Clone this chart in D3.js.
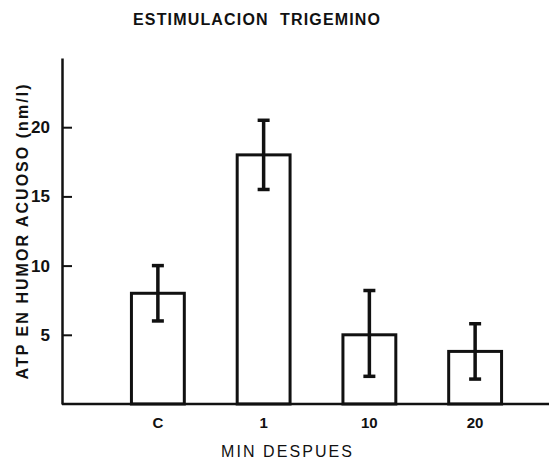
<!DOCTYPE html>
<html>
<head>
<meta charset="utf-8">
<script src="https://cdn.jsdelivr.net/npm/d3@7"></script>
<style>
  body { margin: 0; background: #fff; }
  text { font-family: "Liberation Sans", Arial, sans-serif; font-weight: bold; fill: #111; }
</style>
</head>
<body>
<div id="graph"></div>
<script>
const svgw = 549
const svgh = 464

// data
const categories = ['C', '1', '10', '20']
const means = [8.0, 18.0, 5.0, 3.8]
const errTop = [10.0, 20.5, 8.2, 5.8]
const errBottom = [6.0, 15.5, 2.0, 1.8]
const yTicks = [5, 10, 15, 20]

const data = categories.map((c, i) => ({ cat: c, v: means[i], hi: errTop[i], lo: errBottom[i] }))

const svg = d3.select('#graph')
    .append('svg')
    .attr('width', svgw)
    .attr('height', svgh)

const axisX = 62
const baseY = 404

const yScale = d3.scaleLinear()
    .domain([0, 25])
    .range([baseY, 58])

const xScale = d3.scaleBand()
    .domain(categories)
    .range([105, 528])
    .paddingInner(0.5)
    .paddingOuter(0.25)

// title
svg.append('text')
    .attr('x', 133)
    .attr('y', 25)
    .attr('font-size', 16)
    .attr('textLength', 247)
    .attr('lengthAdjust', 'spacing')
    .style('white-space', 'pre')
    .text('ESTIMULACION  TRIGEMINO')

// bars
svg.selectAll('rect.bar')
    .data(data)
    .enter()
    .append('rect')
    .attr('class', 'bar')
    .attr('x', d => xScale(d.cat))
    .attr('y', d => yScale(d.v))
    .attr('width', xScale.bandwidth())
    .attr('height', d => baseY - yScale(d.v))
    .attr('fill', '#fff')
    .attr('stroke', '#111')
    .attr('stroke-width', 3)

// error bars
const err = svg.selectAll('g.err')
    .data(data)
    .enter()
    .append('g')
    .attr('class', 'err')
    .attr('stroke', '#111')
    .attr('stroke-width', 3.5)

err.append('line')
    .attr('x1', d => xScale(d.cat) + xScale.bandwidth() / 2)
    .attr('x2', d => xScale(d.cat) + xScale.bandwidth() / 2)
    .attr('y1', d => yScale(d.hi))
    .attr('y2', d => yScale(d.lo))

err.selectAll('line.cap')
    .data(d => [d.hi, d.lo].map(v => ({ cat: d.cat, v: v })))
    .enter()
    .append('line')
    .attr('class', 'cap')
    .attr('x1', d => xScale(d.cat) + xScale.bandwidth() / 2 - 6)
    .attr('x2', d => xScale(d.cat) + xScale.bandwidth() / 2 + 6)
    .attr('y1', d => yScale(d.v))
    .attr('y2', d => yScale(d.v))

// y axis: line + inward ticks
const yAxisTicks = d3.axisRight(yScale)
    .tickValues(yTicks)
    .tickSize(10)
    .tickSizeOuter(0)
    .tickFormat('')

svg.append('g')
    .attr('id', 'y-axis')
    .attr('transform', `translate(${axisX},0)`)
    .call(yAxisTicks)
    .call(g => g.selectAll('line').attr('stroke', '#111').attr('stroke-width', 2))
    .call(g => g.select('.domain').attr('stroke', '#111').attr('stroke-width', 2.5))

const yAxisLabels = d3.axisLeft(yScale)
    .tickValues(yTicks)
    .tickSize(0)
    .tickPadding(12)

svg.append('g')
    .attr('transform', `translate(${axisX},0)`)
    .call(yAxisLabels)
    .call(g => g.select('.domain').remove())
    .call(g => g.selectAll('text')
        .attr('font-size', 17)
        .attr('font-family', '"Liberation Sans", Arial, sans-serif')
        .attr('font-weight', 'bold')
        .attr('fill', '#111'))

// x axis baseline
svg.append('line')
    .attr('x1', axisX)
    .attr('x2', svgw)
    .attr('y1', baseY)
    .attr('y2', baseY)
    .attr('stroke', '#111')
    .attr('stroke-width', 2.5)

const xAxis = d3.axisBottom(xScale)
    .tickSize(0)
    .tickPadding(13)

svg.append('g')
    .attr('id', 'x-axis')
    .attr('transform', `translate(0,${baseY})`)
    .call(xAxis)
    .call(g => g.select('.domain').remove())
    .call(g => g.selectAll('text')
        .attr('font-size', 15)
        .attr('font-family', '"Liberation Sans", Arial, sans-serif')
        .attr('font-weight', 'bold')
        .attr('fill', '#111'))

// axis titles
svg.append('text')
    .attr('x', 221)
    .attr('y', 457)
    .attr('font-size', 16)
    .style('font-weight', 'normal')
    .attr('textLength', 131)
    .attr('lengthAdjust', 'spacing')
    .text('MIN DESPUES')

svg.append('text')
    .attr('transform', 'translate(28,232) rotate(-90)')
    .attr('text-anchor', 'middle')
    .attr('font-size', 16)
    .attr('textLength', 295)
    .attr('lengthAdjust', 'spacing')
    .text('ATP EN HUMOR ACUOSO (nm/l)')
</script>
</body>
</html>
